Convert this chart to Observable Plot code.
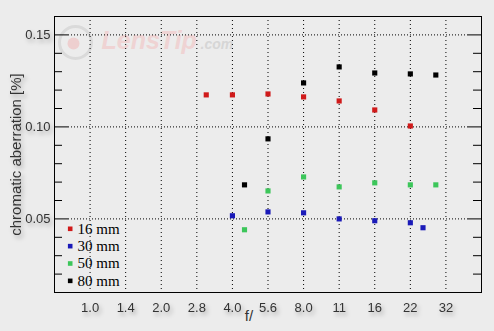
<!DOCTYPE html>
<html>
<head>
<meta charset="utf-8">
<script src="https://cdn.jsdelivr.net/npm/d3@7"></script>
<script src="https://cdn.jsdelivr.net/npm/@observablehq/plot@0.6"></script>
<style>
  html, body { margin: 0; padding: 0; background: #ececec; }
  #chart { width: 494px; height: 331px; }
</style>
</head>
<body>
<div id="chart"></div>
<script>
// f-stop tick labels and their nominal values
const fLabels = ["1.0", "1.4", "2.0", "2.8", "4.0", "5.6", "8.0", "11", "16", "22", "32"];
const fNominal = [1, 1.4, 2, 2.8, 4, 5.6, 8, 11, 16, 22, 32];

// series
const seriesNames = ["16 mm", "30 mm", "50 mm", "80 mm"];
const seriesColors = ["#d01a1a", "#1a1ab8", "#3cc65a", "#000000"];

const f16 = [3.1, 4.0, 5.6, 8.0, 11, 16, 22];
const v16 = [0.1174, 0.1174, 0.1179, 0.1163, 0.1141, 0.1092, 0.1005];

const f30 = [4.0, 5.6, 8.0, 11, 16, 22, 25.6];
const v30 = [0.0517, 0.0538, 0.0533, 0.0500, 0.0490, 0.0479, 0.0452];

const f50 = [4.5, 5.6, 8.0, 11, 16, 22, 29];
const v50 = [0.0441, 0.0652, 0.0728, 0.0674, 0.0696, 0.0685, 0.0685];

const f80 = [4.5, 5.6, 8.0, 11, 16, 22, 29];
const v80 = [0.0685, 0.0935, 0.1239, 0.1326, 0.1293, 0.1288, 0.1282];

// y ticks
const yMajor = [0.05, 0.10, 0.15];
const yMinor = [0.02, 0.03, 0.04, 0.06, 0.07, 0.08, 0.09, 0.11, 0.12, 0.13, 0.14, 0.16];

const yLabel = "chromatic aberration [%]";
const xLabel = "f/";

// position in stops (nominal f-numbers snap to their exact stop)
function stopOf(f) {
  const i = fNominal.indexOf(f);
  return i >= 0 ? i : 2 * Math.log2(f);
}

const fArr = [f16, f30, f50, f80];
const vArr = [v16, v30, v50, v80];
const table = [];
seriesNames.forEach((s, k) => {
  fArr[k].forEach((f, j) => table.push({series: s, f, v: vArr[k][j], color: seriesColors[k]}));
});

const stops = fLabels.map((_, i) => i);
const W = 494, H = 331, ML = 54, MR = 13, MT = 16, MB = 39;
const PW = W - ML - MR;

const marks = [
  // watermark
  Plot.dot([0], {frameAnchor: "top-left", dx: 21, dy: 26, r: 16, stroke: "#dadada", strokeWidth: 3, fill: "none"}),
  Plot.dot([0], {frameAnchor: "top-left", dx: 19, dy: 27, r: 6, fill: "#eecfcf"}),
  Plot.text(["LensTip"], {frameAnchor: "top-left", dx: 47, dy: 24, text: d => d, textAnchor: "start", lineAnchor: "middle",
    fontSize: 25, fontWeight: "bold", fontStyle: "italic", fill: "#efd3d3", fontFamily: "Liberation Sans"}),
  Plot.text([".com"], {frameAnchor: "top-left", dx: 146, dy: 28, text: d => d, textAnchor: "start", lineAnchor: "middle",
    fontSize: 14, fontWeight: "bold", fontStyle: "italic", fill: "#d6d6d6", fontFamily: "Liberation Sans"}),

  // grid
  Plot.ruleX(stops, {x: d => d, stroke: "black", strokeDasharray: "1,3"}),
  Plot.tickY(yMajor, {y: d => d, insetLeft: 14, insetRight: 14, stroke: "black", strokeDasharray: "1,2"}),

  // inside ticks
  Plot.tickY(yMajor, {y: d => d, insetRight: PW - 14, stroke: "black"}),
  Plot.tickY(yMinor, {y: d => d, insetRight: PW - 8, stroke: "black"}),
  Plot.tickY(yMajor, {y: d => d, insetLeft: PW - 14, stroke: "black"}),
  Plot.tickY(yMinor, {y: d => d, insetLeft: PW - 8, stroke: "black"}),

  Plot.frame({stroke: "black"}),

  // axes
  Plot.axisX(stops, {tickSize: 0, tickPadding: 10, tickFormat: i => fLabels[i], fontSize: 13, fill: "#333", label: null}),
  Plot.axisY(yMajor, {tickSize: 0, tickPadding: 4, tickFormat: d3.format(".2f"), fontSize: 13, fill: "#333", label: null}),
  Plot.axisY(yMajor, {tickSize: 0, tickFormat: () => "", fontSize: 15, fill: "#333",
    label: yLabel, labelAnchor: "center", labelArrow: "none", labelOffset: 44}),
  Plot.text([xLabel], {frameAnchor: "bottom", dx: -19, dy: 28, text: d => d, fontSize: 15, fill: "#333", ariaLabel: "axis-title"}),

  // data
  Plot.dot(table, {x: d => stopOf(d.f), y: "v", symbol: "square", r: 2.9, fill: d => d.color, stroke: null}),
];

// legend inside plot
seriesNames.forEach((s, i) => {
  const dy = -63.7 + i * 17.35;
  marks.push(Plot.dot([s], {frameAnchor: "bottom-left", dx: 15.7, dy, symbol: "square", r: 2.6, fill: seriesColors[i]}));
  marks.push(Plot.text([s], {frameAnchor: "bottom-left", dx: 23, dy, text: d => d, textAnchor: "start", lineAnchor: "middle",
    fontFamily: "Liberation Serif", fontSize: 15, fill: "black"}));
});

const chart = Plot.plot({
  width: W, height: H,
  marginLeft: ML, marginRight: MR, marginTop: MT, marginBottom: MB,
  style: {background: "#ececec", fontFamily: "Liberation Sans", fontSize: "13px", color: "#333"},
  x: {type: "linear", domain: [-1, 11], axis: null},
  y: {type: "linear", domain: [0.01, 0.16], axis: null},
  marks
});

chart.querySelectorAll('g[aria-label$="tick label"], g[aria-label$="axis label"], g[aria-label="axis-title"]').forEach(g => {
  g.style.filter = "drop-shadow(2px 3px 2px rgba(0,0,0,0.3))";
});

document.getElementById("chart").appendChild(chart);
</script>
</body>
</html>
